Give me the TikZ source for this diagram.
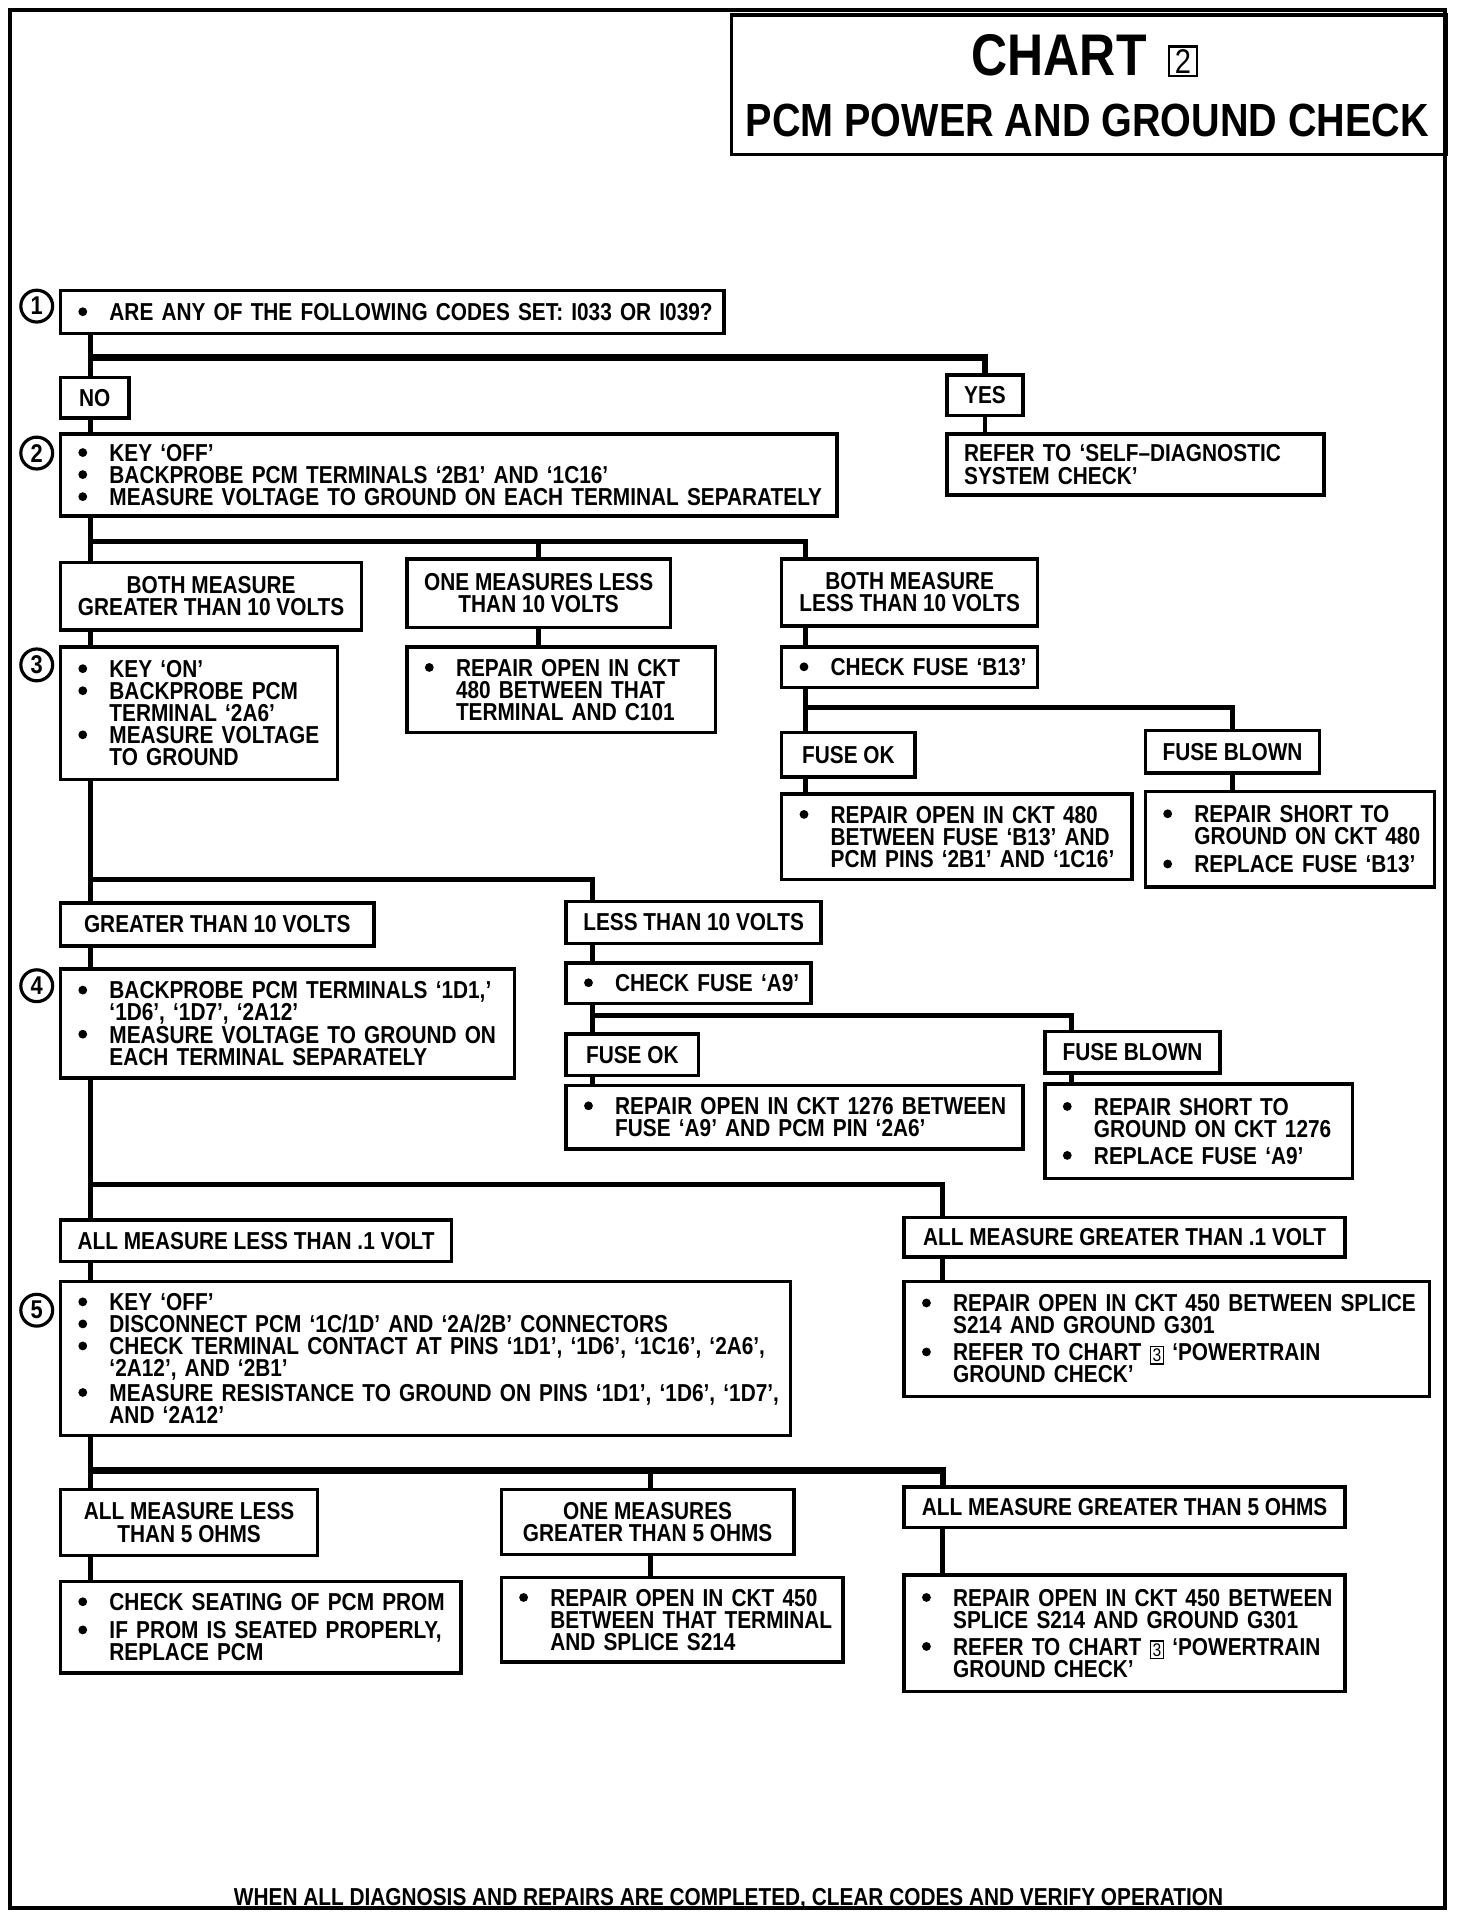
\documentclass[tikz,border=0pt]{standalone}
\usepackage{fontspec}
\setmainfont{Liberation Sans}[FakeStretch=0.85]
\usetikzlibrary{calc}

\newcommand\bul{\hspace*{0.3pt}\tikz[baseline=0pt]{\fill (0pt,3.6pt) circle[radius=1.8pt];}}
\newcommand\bl[1]{\mbox{\makebox[13pt][l]{\bul}#1}}
\newcommand\cl[1]{\mbox{\hspace*{13pt}#1}}
\newcommand\pl[1]{\mbox{#1}}
\newcommand\numbox[1]{{\setlength{\fboxsep}{0.6pt}\setlength{\fboxrule}{0.6pt}\raisebox{-0.3pt}{\fbox{\fontsize{7.5}{7.5}\selectfont\mdseries #1}}}}
\newcommand\mkbox[7]{\pgfmathsetmacro\tw{#5*0.5-14}\node[#1, text width=\tw pt, minimum width=#5*0.5pt, minimum height=#6*0.5pt] (#2) at (#3,#4) {#7};}
\newcommand\mkcbox[6]{\node[cbox, minimum width=#4*0.5pt, minimum height=#5*0.5pt] (#1) at (#2,#3) {#6};}

\tikzset{
  base/.style={draw, line width=1.4pt, anchor=north west, inner xsep=7pt, inner ysep=0pt, font=\fontsize{10}{9}\selectfont\bfseries},
  lbox/.style={base, align=left},
  cbox/.style={base, align=center},
  conn/.style={line width=2pt},
  hconn/.style={line width=2.6pt},
  circ/.style={circle, draw, line width=1.3pt, minimum size=13pt, inner sep=0pt, font=\fontsize{10.5}{10.5}\selectfont\bfseries}
}

\begin{document}
\begin{tikzpicture}[x=0.5pt, y=-0.5pt]
\useasboundingbox (0,0) rectangle (1202,1568);
\fill[white] (0,0) rectangle (1202,1568);

% outer frame
\draw[line width=1.5pt] (8,8) rectangle (1180,1558);

% title
\node[draw, line width=1.4pt, anchor=north west, minimum width=584*0.5pt, minimum height=114*0.5pt, inner sep=0pt] (tbox) at (596,11) {};
\node[font=\fontsize{24}{24}\selectfont\bfseries, inner sep=0pt] (chart) at (865,45) {CHART};
\node[draw, line width=0.9pt, minimum width=11.5pt, minimum height=12pt, inner sep=0pt, font=\fontsize{14}{14}\selectfont] (ctwo) at (966,50) {2};
\node[font=\fontsize{19}{19}\selectfont\bfseries, inner sep=0pt] (ptitle) at (888,98) {PCM POWER AND GROUND CHECK};

% trunk coordinates
\coordinate (tA) at (74,0);
\coordinate (tB) at (658,0);
\coordinate (tD) at (484,0);
\coordinate (tE) at (875,0);
\coordinate (tF) at (770,0);
\coordinate (tG) at (531,0);
\coordinate (j1) at (74,292);
\coordinate (j2) at (74,442);
\coordinate (j3) at (658,578);
\coordinate (j4) at (74,718);
\coordinate (j5) at (484,829);
\coordinate (j6) at (74,967);
\coordinate (j7) at (74,1201);

% circled step numbers
\node[circ] (c1) at (30,250) {1};
\node[circ] (c2) at (30,370) {2};
\node[circ] (c3) at (30,543) {3};
\node[circ] (c4) at (30,805) {4};
\node[circ] (c5) at (30,1070) {5};

% boxes
\mkbox{lbox}{b1}{48}{236}{542}{35}{\bl{ARE ANY OF THE FOLLOWING CODES SET: I033 OR I039?}}
\mkcbox{no}{48}{307}{56}{33}{NO}
\mkcbox{yes}{772}{305}{58}{33}{YES}
\mkbox{lbox}{refer}{772}{353}{308}{50}{\pl{REFER TO `SELF--DIAGNOSTIC}\\\pl{SYSTEM CHECK'}}
\mkbox{lbox}{b2}{48}{353}{634}{67}{\bl{KEY `OFF'}\\\bl{BACKPROBE PCM TERMINALS `2B1' AND `1C16'}\\\bl{MEASURE VOLTAGE TO GROUND ON EACH TERMINAL SEPARATELY}}
\mkcbox{m1}{48}{458}{246}{55}{BOTH MEASURE\\GREATER THAN 10 VOLTS}
\mkcbox{m2}{331}{455}{213}{56}{ONE MEASURES LESS\\THAN 10 VOLTS}
\mkcbox{m3}{637}{455}{209}{55}{BOTH MEASURE\\LESS THAN 10 VOLTS}
\mkbox{lbox}{b3}{48}{527}{226}{108}{\bl{KEY `ON'}\\\bl{BACKPROBE PCM}\\\cl{TERMINAL `2A6'}\\\bl{MEASURE VOLTAGE}\\\cl{TO GROUND}}
\mkbox{lbox}{r1}{331}{527}{252}{70}{\bl{REPAIR OPEN IN CKT}\\\cl{480 BETWEEN THAT}\\\cl{TERMINAL AND C101}}
\mkbox{lbox}{cf1}{637}{527}{209}{33}{\bl{CHECK FUSE `B13'}}
\mkcbox{fok1}{637}{597}{109}{36}{FUSE OK}
\mkcbox{fbl1}{934}{595}{142}{35}{FUSE BLOWN}
\mkbox{lbox}{r2}{637}{647}{286}{70}{\bl{REPAIR OPEN IN CKT 480}\\\cl{BETWEEN FUSE `B13' AND}\\\cl{PCM PINS `2B1' AND `1C16'}}
\mkbox{lbox}{r3}{934}{645}{236}{78}{\bl{REPAIR SHORT TO}\\\cl{GROUND ON CKT 480}\\[2.5pt]\bl{REPLACE FUSE `B13'}}
\mkcbox{g1}{48}{736}{256}{35}{GREATER THAN 10 VOLTS}
\mkcbox{l1}{461}{735}{206}{34}{LESS THAN 10 VOLTS}
\mkbox{lbox}{b4}{48}{790}{371}{89}{\bl{BACKPROBE PCM TERMINALS `1D1,'}\\\cl{`1D6', `1D7', `2A12'}\\\bl{MEASURE VOLTAGE TO GROUND ON}\\\cl{EACH TERMINAL SEPARATELY}}
\mkbox{lbox}{cf2}{461}{785}{200}{33}{\bl{CHECK FUSE `A9'}}
\mkcbox{fok2}{461}{843}{108}{34}{FUSE OK}
\mkcbox{fbl2}{852}{841}{143}{34}{FUSE BLOWN}
\mkbox{lbox}{r4}{461}{885}{373}{52}{\bl{REPAIR OPEN IN CKT 1276 BETWEEN}\\\cl{FUSE `A9' AND PCM PIN `2A6'}}
\mkbox{lbox}{r5}{852}{884}{251}{77}{\bl{REPAIR SHORT TO}\\\cl{GROUND ON CKT 1276}\\[2pt]\bl{REPLACE FUSE `A9'}}
\mkcbox{a1}{48}{995}{318}{34}{ALL MEASURE LESS THAN .1 VOLT}
\mkcbox{a2}{737}{993}{360}{32}{ALL MEASURE GREATER THAN .1 VOLT}
\mkbox{lbox}{b5}{48}{1045}{596}{126}{\bl{KEY `OFF'}\\\bl{DISCONNECT PCM `1C/1D' AND `2A/2B' CONNECTORS}\\\bl{CHECK TERMINAL CONTACT AT PINS `1D1', `1D6', `1C16', `2A6',}\\\cl{`2A12', AND `2B1'}\\[1pt]\bl{MEASURE RESISTANCE TO GROUND ON PINS `1D1', `1D6', `1D7',}\\\cl{AND `2A12'}}
\mkbox{lbox}{r6}{737}{1045}{429}{94}{\bl{REPAIR OPEN IN CKT 450 BETWEEN SPLICE}\\\cl{S214 AND GROUND G301}\\[2pt]\bl{REFER TO CHART \numbox{3} `POWERTRAIN}\\\cl{GROUND CHECK'}}
\mkcbox{o1}{48}{1215}{210}{54}{ALL MEASURE LESS\\THAN 5 OHMS}
\mkcbox{o2}{408}{1215}{239}{53}{ONE MEASURES\\GREATER THAN 5 OHMS}
\mkcbox{o3}{737}{1213}{360}{33}{ALL MEASURE GREATER THAN 5 OHMS}
\mkbox{lbox}{r7}{48}{1290}{327}{75}{\bl{CHECK SEATING OF PCM PROM}\\[2.5pt]\bl{IF PROM IS SEATED PROPERLY,}\\\cl{REPLACE PCM}}
\mkbox{lbox}{r8}{408}{1287}{279}{69}{\bl{REPAIR OPEN IN CKT 450}\\\cl{BETWEEN THAT TERMINAL}\\\cl{AND SPLICE S214}}
\mkbox{lbox}{r9}{737}{1285}{360}{95}{\bl{REPAIR OPEN IN CKT 450 BETWEEN}\\\cl{SPLICE S214 AND GROUND G301}\\[2pt]\bl{REFER TO CHART \numbox{3} `POWERTRAIN}\\\cl{GROUND CHECK'}}

% footer
\node[anchor=base, inner sep=0pt, font=\fontsize{10}{10}\selectfont\bfseries] (foot) at (595,1556) {WHEN ALL DIAGNOSIS AND REPAIRS ARE COMPLETED, CLEAR CODES AND VERIFY OPERATION};

% connectors
\draw[conn] (b1.south -| tA) -- (no.north -| tA);
\draw[hconn] (j1) -| (yes.north);
\draw[conn] (yes.south) -- (refer.north -| yes.south);
\draw[conn] (no.south -| tA) -- (b2.north -| tA);

\draw[conn] (b2.south -| tA) -- (m1.north -| tA);
\draw[conn] (j2) -| (m3.north -| tB);
\draw[conn] (m2.north) -- (m2.north |- j2);
\draw[conn] (m1.south -| tA) -- (b3.north -| tA);
\draw[conn] (m2.south) -- (r1.north -| m2.south);
\draw[conn] (m3.south -| tB) -- (cf1.north -| tB);
\draw[conn] (cf1.south -| tB) -- (fok1.north -| tB);
\draw[conn] (j3) -| (fbl1.north);
\draw[conn] (fok1.south -| tB) -- (r2.north -| tB);
\draw[conn] (fbl1.south) -- (r3.north -| fbl1.south);

\draw[conn] (b3.south -| tA) -- (g1.north -| tA);
\draw[conn] (j4) -| (l1.north -| tD);
\draw[conn] (g1.south -| tA) -- (b4.north -| tA);
\draw[conn] (l1.south -| tD) -- (cf2.north -| tD);
\draw[conn] (cf2.south -| tD) -- (fok2.north -| tD);
\draw[conn] (j5) -| (fbl2.north -| tE);
\draw[conn] (fok2.south -| tD) -- (r4.north -| tD);
\draw[conn] (fbl2.south -| tE) -- (r5.north -| tE);

\draw[conn] (b4.south -| tA) -- (a1.north -| tA);
\draw[conn] (j6) -| (a2.north -| tF);
\draw[conn] (a1.south -| tA) -- (b5.north -| tA);
\draw[conn] (a2.south -| tF) -- (r6.north -| tF);

\draw[conn] (b5.south -| tA) -- (o1.north -| tA);
\draw[hconn] (j7) -| (o3.north -| tF);
\draw[conn] (o2.north -| tG) -- (tG |- j7);
\draw[conn] (o1.south -| tA) -- (r7.north -| tA);
\draw[conn] (o2.south -| tG) -- (r8.north -| tG);
\draw[conn] (o3.south -| tF) -- (r9.north -| tF);
\end{tikzpicture}
\end{document}
